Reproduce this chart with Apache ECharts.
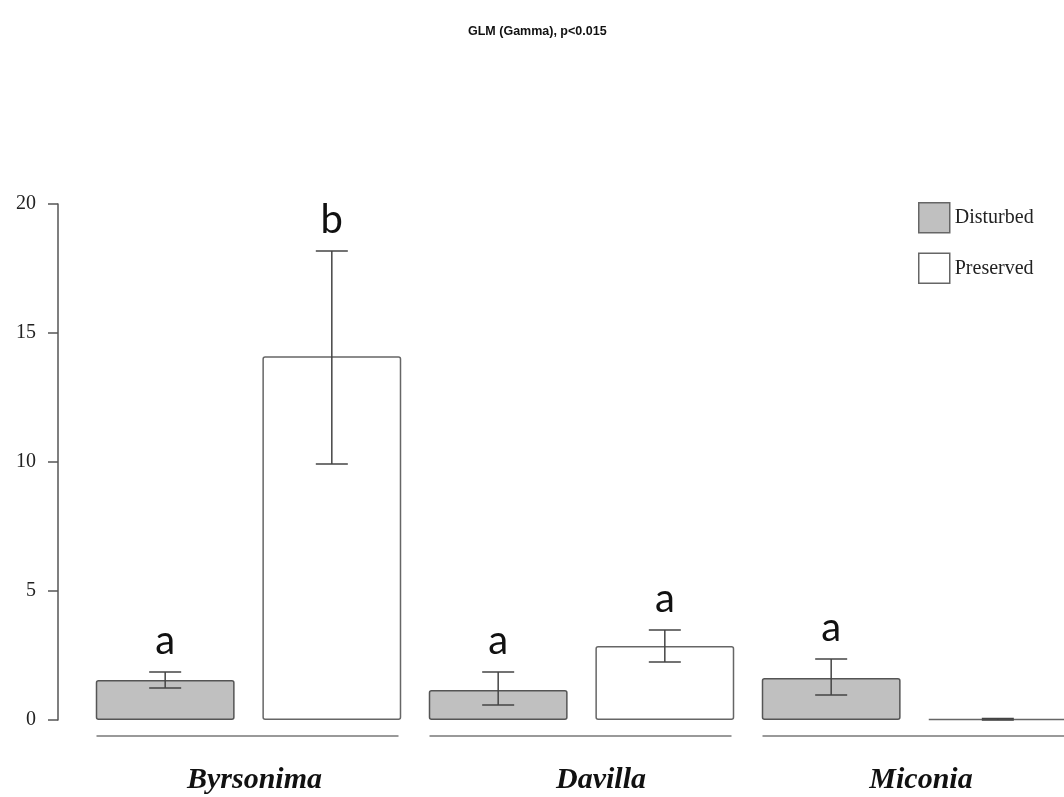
<!DOCTYPE html>
<html>
<head>
<meta charset="utf-8">
<script src="https://cdn.jsdelivr.net/npm/echarts@6/dist/echarts.min.js"></script>
<style>html,body{margin:0;padding:0;background:#fff;width:1064px;height:797px;overflow:hidden;}#c{width:1100px;height:797px;}</style>
</head>
<body>
<div id="c"></div>
<script>
const categories = ['Byrsonima', 'Davilla', 'Miconia'];
const seriesNames = ['Disturbed', 'Preserved'];
const disturbedMean = [1.55, 1.16, 1.63];
const disturbedLow = [1.24, 0.58, 0.97];
const disturbedHigh = [1.86, 1.86, 2.36];
const preservedMean = [14.1, 2.87, 0.03];
const preservedLow = [9.92, 2.25, 0.0];
const preservedHigh = [18.18, 3.49, 0.06];
const disturbedLetters = ['a', 'a', 'a'];
const preservedLetters = ['b', 'a', ''];
const yMin = 0, yMax = 20, yInterval = 5;

const BAR_PCT = 0.417, GAP_PCT = 0.2;

const errData = [];
categories.forEach((c, i) => {
  errData.push([i, disturbedLow[i], disturbedHigh[i], -1, disturbedLetters[i]]);
  errData.push([i, preservedLow[i], preservedHigh[i], 1, preservedLetters[i]]);
});

const labelFont = {fontFamily: 'Liberation Serif', fontStyle: 'italic', fontWeight: 'bold', fontSize: 30, color: '#111'};

const chart = echarts.init(document.getElementById('c'), null, {renderer: 'canvas'});
chart.setOption({
  animation: false,
  backgroundColor: '#fff',
  title: {
    text: 'GLM (Gamma), p<0.015',
    left: 463, top: 20,
    textStyle: {fontFamily: 'Liberation Sans', fontWeight: 'bold', fontSize: 12.5, color: '#111'}
  },
  legend: {
    orient: 'vertical', left: 913, top: 197,
    itemWidth: 31, itemHeight: 30, itemGap: 19, icon: 'rect',
    textStyle: {fontFamily: 'Liberation Serif', fontSize: 20, color: '#222'},
    data: [
      {name: 'Disturbed', itemStyle: {color: '#c0c0c0', borderColor: '#666', borderWidth: 1.5}},
      {name: 'Preserved', itemStyle: {color: '#fff', borderColor: '#666', borderWidth: 1.5}}
    ]
  },
  grid: {left: 82, top: 204, width: 999, height: 516, containLabel: false},
  xAxis: {
    type: 'category', data: categories,
    axisLine: {show: false}, axisTick: {show: false},
    axisLabel: {
      margin: 45,
      formatter: (v) => v === 'Davilla' ? '{d|' + v + '}' : (v === 'Byrsonima' ? '{b|' + v + '}' : '{m|' + v + '}'),
      rich: {
        b: Object.assign({padding: [0, 0, 0, 12]}, labelFont),
        d: Object.assign({padding: [0, 0, 0, 39]}, labelFont),
        m: Object.assign({padding: [0, 0, 0, 13]}, labelFont)
      }
    }
  },
  yAxis: {
    type: 'value', min: yMin, max: yMax, interval: yInterval, offset: 24,
    axisLine: {show: true, lineStyle: {color: '#555', width: 1.5}},
    axisTick: {show: true, length: 10, lineStyle: {color: '#555', width: 1.5}},
    splitLine: {show: false},
    axisLabel: {fontFamily: 'Liberation Serif', fontSize: 20, color: '#222', margin: 22}
  },
  series: [
    {
      name: 'Disturbed', type: 'bar', data: disturbedMean,
      barWidth: (BAR_PCT * 100) + '%', barGap: (GAP_PCT * 100) + '%',
      itemStyle: {color: '#c0c0c0', borderColor: '#555', borderWidth: 1.5, borderRadius: 2}
    },
    {
      name: 'Preserved', type: 'bar', data: preservedMean,
      barWidth: (BAR_PCT * 100) + '%', barGap: (GAP_PCT * 100) + '%',
      itemStyle: {color: '#fff', borderColor: '#666', borderWidth: 1.5, borderRadius: 2}
    },
    {
      name: 'err', type: 'custom', data: errData, z: 5,
      renderItem: function (params, api) {
        const band = api.size([1, 0])[0];
        const bw = band * BAR_PCT;
        const off = (bw + bw * GAP_PCT) / 2 * api.value(3);
        const x = api.coord([api.value(0), 0])[0] + off;
        const yl = api.coord([api.value(0), api.value(1)])[1];
        const yh = api.coord([api.value(0), api.value(2)])[1];
        const cap = 16;
        const st = {stroke: '#444', lineWidth: 1.5};
        const children = [
          {type: 'line', shape: {x1: x, y1: yl, x2: x, y2: yh}, style: st},
          {type: 'line', shape: {x1: x - cap, y1: yl, x2: x + cap, y2: yl}, style: st},
          {type: 'line', shape: {x1: x - cap, y1: yh, x2: x + cap, y2: yh}, style: st}
        ];
        const letter = errData[params.dataIndex][4];
        if (letter) {
          children.push({type: 'text', x: x, y: yh - 11, style: {
            text: letter, fontFamily: 'Lato', fontSize: 40, fill: '#111', align: 'center', verticalAlign: 'bottom'
          }});
        }
        return {type: 'group', children: children};
      }
    },
    {
      name: 'underline', type: 'custom', data: categories.map((c, i) => [i, 0]), z: 5,
      renderItem: function (params, api) {
        const p = api.coord([api.value(0), 0]);
        return {type: 'line', shape: {x1: p[0] - 152, y1: p[1] + 16, x2: p[0] + 150, y2: p[1] + 16},
          style: {stroke: '#777', lineWidth: 1.5}};
      }
    }
  ]
});
</script>
</body>
</html>
